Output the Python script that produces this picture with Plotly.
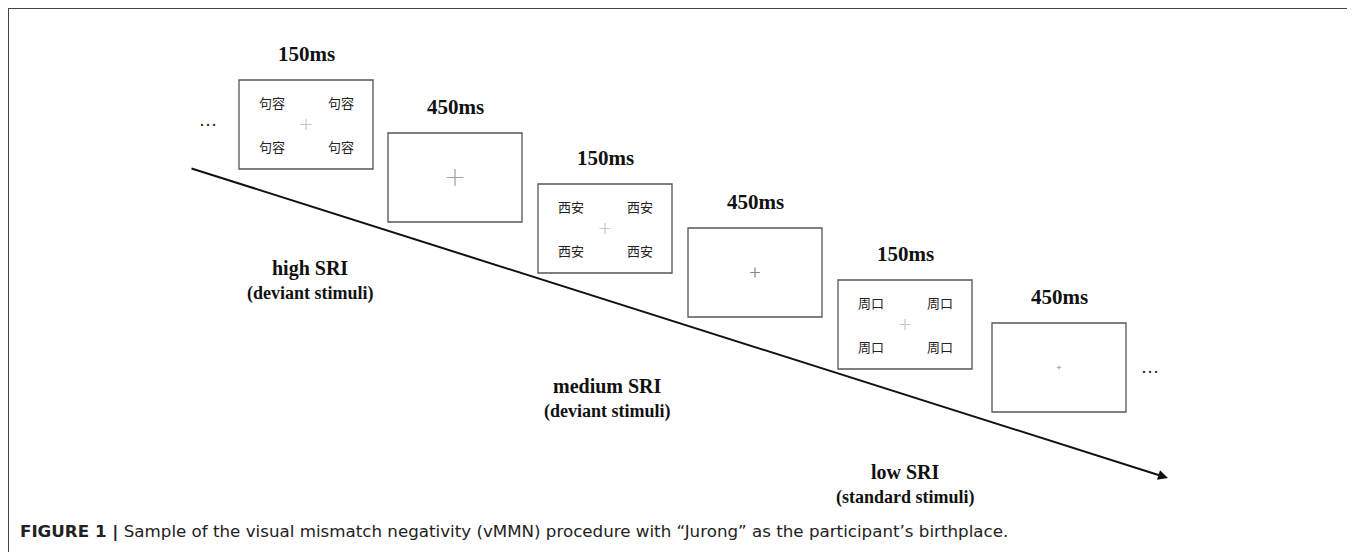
import plotly.graph_objects as go

# ---- content ----
durations = ["150ms", "450ms", "150ms", "450ms", "150ms", "450ms"]
stimuli = ["句容", "", "西安", "", "周口", ""]
conditions = ["high SRI", "medium SRI", "low SRI"]
condition_types = ["(deviant stimuli)", "(deviant stimuli)", "(standard stimuli)"]
caption_bold = "FIGURE 1 |"
caption_text = " Sample of the visual mismatch negativity (vMMN) procedure with “Jurong” as the participant’s birthplace."

# ---- layout (pixel space) ----
W, H = 1355, 552
OFF = 8  # page body margin
box_left = [239, 388, 538, 688, 838, 992]
box_top = [80, 133, 184, 228, 280, 323]
box_w, box_h = 134, 89
fix_size = [8, 12, 8, 7, 8, 3]
fix_color = ["#b0b0b0", "#777777", "#b0b0b0", "#555555", "#b0b0b0", "#888888"]
cond_x = [310, 607, 905]
cond_y = [268, 386, 472]
arrow_start = (190, 168)
arrow_end = (1168, 478)

fig = go.Figure()
shapes = []
annotations = []

# frame (top & left)
shapes.append(dict(type="line", x0=7, y0=8, x1=W + OFF, y1=8, line=dict(color="#444", width=2)))
shapes.append(dict(type="line", x0=8, y0=8, x1=8, y1=H + OFF, line=dict(color="#444", width=2)))

serif = "Liberation Serif, Times New Roman, serif"
cjk = "Noto Sans CJK SC"

fx, fy, fs, fc = [], [], [], []
for i, dur in enumerate(durations):
    x0, y0 = box_left[i], box_top[i]
    x1, y1 = x0 + box_w, y0 + box_h
    cx = (x0 + x1) / 2
    cy = (y0 + y1) / 2
    shapes.append(dict(type="rect", x0=x0, y0=y0, x1=x1, y1=y1, layer="below",
                       line=dict(color="#555", width=1.3), fillcolor="white"))
    annotations.append(dict(x=cx, y=y0 - 26, text="<b>" + dur + "</b>", showarrow=False,
                            font=dict(family=serif, size=21, color="#111"),
                            xanchor="center", yanchor="middle"))
    if stimuli[i]:
        for dx in (-34, 35):
            for dy in (-22, 22):
                annotations.append(dict(x=cx + dx, y=cy + dy, text=stimuli[i], showarrow=False,
                                        font=dict(family=cjk, size=13, color="#222"),
                                        xanchor="center", yanchor="middle"))
    fx.append(cx)
    fy.append(cy)
    fs.append(fix_size[i])
    fc.append(fix_color[i])

fig.add_trace(go.Scatter(x=fx, y=fy, mode="markers", hoverinfo="skip",
                         marker=dict(symbol="cross-thin", size=fs,
                                     line=dict(color=fc, width=1.2), color=fc)))

# ellipses
annotations.append(dict(x=208, y=120, text="…", showarrow=False,
                        font=dict(family=serif, size=18, color="#222")))
annotations.append(dict(x=1150, y=367, text="…", showarrow=False,
                        font=dict(family=serif, size=18, color="#222")))

# arrow
annotations.append(dict(x=arrow_end[0], y=arrow_end[1], ax=arrow_start[0], ay=arrow_start[1],
                        xref="x", yref="y", axref="x", ayref="y", text="",
                        showarrow=True, arrowhead=2, arrowsize=1, arrowwidth=2, arrowcolor="#111"))

# condition labels
for i, c in enumerate(conditions):
    annotations.append(dict(x=cond_x[i], y=cond_y[i], text="<b>" + c + "</b>", showarrow=False,
                            font=dict(family=serif, size=20, color="#111")))
    annotations.append(dict(x=cond_x[i], y=cond_y[i] + 25, text="<b>" + condition_types[i] + "</b>",
                            showarrow=False, font=dict(family=serif, size=18, color="#111")))

# caption
annotations.append(dict(x=18, y=531, xanchor="left", yanchor="middle", showarrow=False,
                        text="<b>" + caption_bold + "</b>" + caption_text,
                        font=dict(family="DejaVu Sans, sans-serif", size=16.7, color="#222")))

fig.update_layout(
    width=W, height=H, margin=dict(l=0, r=0, t=0, b=0),
    paper_bgcolor="white", plot_bgcolor="white", showlegend=False,
    shapes=shapes, annotations=annotations,
    xaxis=dict(range=[OFF, W + OFF], visible=False, fixedrange=True),
    yaxis=dict(range=[H + OFF, OFF], visible=False, fixedrange=True),
)
fig.write_html("out.html", config={"displayModeBar": False})
